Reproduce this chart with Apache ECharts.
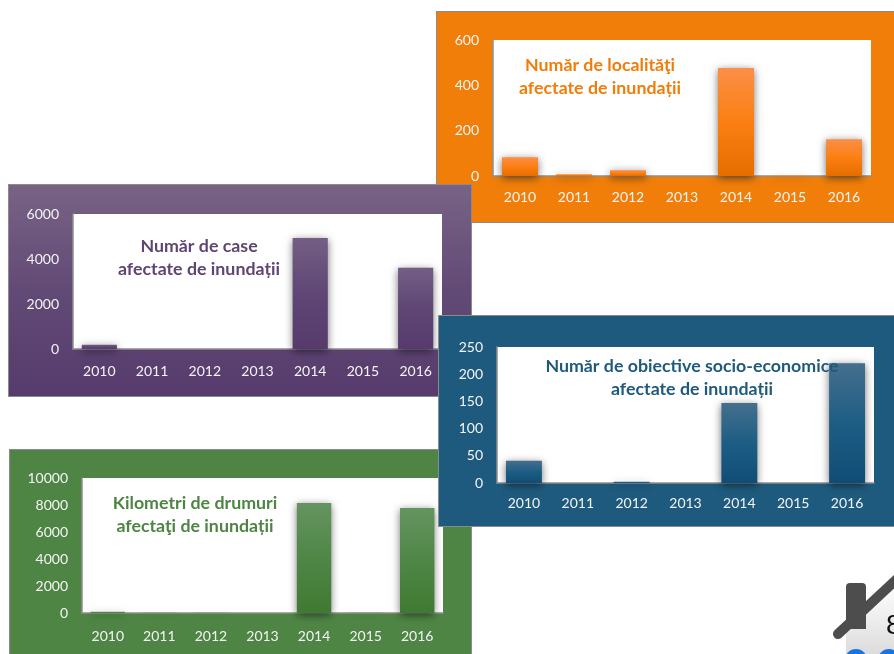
<!DOCTYPE html>
<html>
<head>
<meta charset="utf-8">
<style>
html, body { margin: 0; padding: 0; width: 894px; height: 654px; overflow: hidden; background: #fff; }
.panel { position: absolute; box-sizing: border-box; border: 1px solid #8b8b8b; }
#house { position: absolute; left: 814px; top: 564px; width: 80px; height: 90px; }
</style>
<script src="https://cdn.jsdelivr.net/npm/echarts@6/dist/echarts.min.js"></script>
</head>
<body>
<div id="house"></div>
<div id="localitati" class="panel" style="left:436px;top:11px;width:470px;height:212px;z-index:1"></div>
<div id="case" class="panel" style="left:8px;top:184px;width:464px;height:213px;z-index:2"></div>
<div id="drumuri" class="panel" style="left:9px;top:449px;width:463px;height:220px;z-index:3"></div>
<div id="obiective" class="panel" style="left:438px;top:315px;width:470px;height:212px;z-index:4"></div>
<script>
var years = ['2010','2011','2012','2013','2014','2015','2016'];

var localitatiValues = [83, 8, 25, 0, 476, 2, 162];
var caseValues = [192, 0, 0, 0, 4937, 0, 3606];
var obiectiveValues = [41, 0, 2.5, 0, 147, 0, 220];
var drumuriValues = [100, 15, 15, 0, 8150, 10, 7780];

var localitatiTitle = 'Număr de localităţi\nafectate de inundații';
var caseTitle = 'Număr de case\nafectate de inundații';
var obiectiveTitle = 'Număr de obiective socio-economice\nafectate de inundații';
var drumuriTitle = 'Kilometri de drumuri\nafectaţi de inundații';

var fontName = 'Lato, "Open Sans", sans-serif';

function fade(top, middle, bottom) {
    return new echarts.graphic.LinearGradient(0, 0, 0, 1, [
        {offset: 0, color: top},
        {offset: 0.5, color: middle},
        {offset: 1, color: bottom}
    ]);
}

function panelChart(id, cfg) {
    var chart = echarts.init(document.getElementById(id));
    chart.setOption({
        animation: false,
        backgroundColor: cfg.background,
        title: {
            text: cfg.title,
            left: cfg.titleX,
            top: cfg.titleY,
            textAlign: 'center',
            padding: 0,
            textStyle: {
                color: cfg.titleColor,
                fontFamily: fontName,
                fontSize: 17.8,
                fontWeight: 'bold',
                lineHeight: 23
            }
        },
        grid: {
            show: true,
            left: cfg.grid[0],
            top: cfg.grid[1],
            width: cfg.grid[2],
            height: cfg.grid[3],
            backgroundColor: '#fff',
            borderWidth: 0,
            containLabel: false
        },
        xAxis: {
            type: 'category',
            data: years,
            axisTick: {show: false},
            axisLine: {lineStyle: {color: '#8f8f8f', width: 1.5}},
            axisLabel: {color: '#f4f4f4', fontFamily: fontName, fontSize: 14, margin: cfg.labelMargin}
        },
        yAxis: {
            type: 'value',
            min: 0,
            max: cfg.max,
            interval: cfg.interval,
            splitLine: {show: false},
            axisTick: {show: false},
            axisLine: {show: true, lineStyle: {color: '#8f8f8f', width: 1.5}},
            axisLabel: {
                color: '#f4f4f4', fontFamily: fontName, fontSize: 14, margin: 14,
                formatter: function (v) { return String(v); }
            }
        },
        series: [{
            type: 'bar',
            data: cfg.values,
            barCategoryGap: '33.3%',
            silent: true,
            itemStyle: {
                color: cfg.bar,
                shadowBlur: 8,
                shadowColor: 'rgba(0,0,0,0.55)',
                shadowOffsetY: 2
            }
        }]
    });
}

panelChart('localitati', {
    values: localitatiValues, max: 600, interval: 200,
    title: localitatiTitle, titleX: 163, titleY: 42, titleColor: '#f07d0a',
    background: '#f07e09', grid: [56, 28, 378, 136], labelMargin: 14,
    bar: fade('#fa8f48', '#fc7f12', '#e56e00')
});

panelChart('case', {
    values: caseValues, max: 6000, interval: 2000,
    title: caseTitle, titleX: 190, titleY: 50, titleColor: '#5e4574',
    background: fade('#786385', '#624a76', '#563b6c'), grid: [64, 29, 369, 135], labelMargin: 15,
    bar: fade('#745e85', '#5f4675', '#563a6d')
});

panelChart('drumuri', {
    values: drumuriValues, max: 10000, interval: 2000,
    title: drumuriTitle, titleX: 185, titleY: 42, titleColor: '#4e8544',
    background: '#4e8544', grid: [72, 28, 361, 135], labelMargin: 16,
    bar: fade('#659460', '#4f8747', '#3f7a31')
});

panelChart('obiective', {
    values: obiectiveValues, max: 250, interval: 50,
    title: obiectiveTitle, titleX: 253, titleY: 39, titleColor: '#1e5a7d',
    background: '#1e5a7d', grid: [58, 31, 377, 136], labelMargin: 13,
    bar: fade('#456f8d', '#1d5d84', '#104d76')
});

// casuta cu numarul paginii, colt dreapta jos
var house = echarts.init(document.getElementById('house'));
house.setOption({
    animation: false,
    graphic: [
        {type: 'polygon', shape: {points: [[32, 60], [80, 18], [80, 90], [32, 90]]},
            style: {fill: new echarts.graphic.LinearGradient(0, 0, 0, 1, [{offset: 0, color: '#ffffff'}, {offset: 1, color: '#dcdcdc'}])}},
        {type: 'circle', shape: {cx: 42, cy: 96, r: 11}, style: {fill: '#1a73e0'}},
        {type: 'circle', shape: {cx: 75, cy: 96, r: 11}, style: {fill: '#1a73e0'}},
        {type: 'rect', shape: {x: 32, y: 19, width: 20, height: 46, r: [4, 4, 0, 0]}, style: {fill: '#4d4d4d'}},
        {type: 'line', shape: {x1: 24, y1: 70, x2: 84, y2: 14},
            style: {stroke: '#4d4d4d', lineWidth: 10, lineCap: 'round'}},
        {type: 'text', x: 72, y: 48, style: {text: '8', fill: '#111', fontSize: 28, fontFamily: 'Liberation Sans'}}
    ]
});
</script>
</body>
</html>
